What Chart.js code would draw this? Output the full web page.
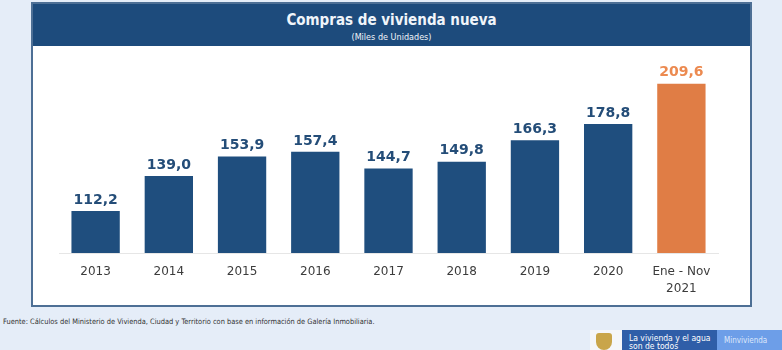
<!DOCTYPE html>
<html>
<head>
<meta charset="utf-8">
<script src="https://cdn.jsdelivr.net/npm/chart.js@4"></script>
<style>
    body { margin: 0; width: 782px; height: 350px; background: #e5edf8; position: relative; overflow: hidden; font-family: "DejaVu Sans", sans-serif; }
    #frame { position: absolute; left: 31px; top: 2px; width: 717px; height: 301px; border: 2px solid #4d6f95; background: #fff; }
    #header { position: absolute; left: 0; top: 0; width: 100%; height: 42px; background: #1d4b7c; color: #f0f5fa; text-align: center; }
    #title { font-family: "DejaVu Sans Condensed", "DejaVu Sans", sans-serif; font-weight: bold; font-size: 15px; margin-top: 7px; }
    #subtitle { font-family: "DejaVu Sans Condensed", "DejaVu Sans", sans-serif; font-size: 9px; margin-top: 3px; }
    #wrap { position: absolute; left: 0; top: 44px; width: 717px; height: 257px; }
    #source { position: absolute; left: 3px; top: 317px; font-family: "DejaVu Sans Condensed", sans-serif; font-size: 7.4px; color: #333; }
    #logo { position: absolute; left: 590px; top: 330px; width: 192px; height: 20px; background: #f4f6fa; overflow: hidden; }
    #shield { position: absolute; left: 6px; top: 3px; width: 16px; height: 17px; background: #c9a54a; border-radius: 3px 3px 8px 8px; }
    #slogan { position: absolute; left: 32px; top: 0; width: 95px; height: 20px; background: #2f5ea8; color: #fff; font-family: "DejaVu Sans Condensed", sans-serif; font-size: 8.5px; line-height: 8px; padding: 4px 0 0 7px; box-sizing: border-box; overflow: hidden; white-space: nowrap; }
    #brand { position: absolute; left: 127px; top: 0; width: 65px; height: 20px; background: #6d9ee8; color: #dde8fb; font-family: "DejaVu Sans Condensed", sans-serif; font-size: 8px; padding: 6px 0 0 7px; box-sizing: border-box; white-space: nowrap; }
</style>
</head>
<body>
<div id="frame">
    <div id="header">
        <div id="title">Compras de vivienda nueva</div>
        <div id="subtitle">(Miles de Unidades)</div>
    </div>
    <div id="wrap"><canvas id="chart"></canvas></div>
</div>
<div id="source">Fuente: Cálculos del Ministerio de Vivienda, Ciudad y Territorio con base en información de Galería Inmobiliaria.</div>
<div id="logo">
    <div id="shield"></div>
    <div id="slogan">La vivienda y el agua<br>son de todos</div>
    <div id="brand">Minvivienda</div>
</div>
<script>
// datos
const categories = ['2013', '2014', '2015', '2016', '2017', '2018', '2019', '2020', ['Ene - Nov', '2021']];
const purchases = [112.2, 139.0, 153.9, 157.4, 144.7, 149.8, 166.3, 178.8, 209.6];
const valueLabels = ['112,2', '139,0', '153,9', '157,4', '144,7', '149,8', '166,3', '178,8', '209,6'];

const BLUE = '#1f4e7e';
const ORANGE = '#e07d45';
const barColors = purchases.map((v, i) => i === purchases.length - 1 ? ORANGE : BLUE);
const labelColors = purchases.map((v, i) => i === purchases.length - 1 ? '#ec8a50' : '#244d78');

// etiquetas encima de las barras
const valueLabelPlugin = {
    id: 'valueLabels',
    afterDatasetsDraw(chart) {
        const ctx = chart.ctx;
        const meta = chart.getDatasetMeta(0);
        ctx.save();
        ctx.font = 'bold 14px "DejaVu Sans", sans-serif';
        ctx.textAlign = 'center';
        ctx.textBaseline = 'bottom';
        meta.data.forEach((bar, i) => {
            ctx.fillStyle = labelColors[i];
            ctx.fillText(valueLabels[i], bar.x, bar.y - 4);
        });
        ctx.restore();
    }
};

const chart = new Chart(document.getElementById('chart'), {
    type: 'bar',
    data: {
        labels: categories,
        datasets: [{
            data: purchases,
            backgroundColor: barColors,
            barPercentage: 0.66,
            categoryPercentage: 1
        }]
    },
    options: {
        responsive: true,
        maintainAspectRatio: false,
        animation: false,
        layout: { padding: { left: 26, right: 32, top: 9, bottom: 8 } },
        scales: {
            y: { display: false, min: 80, max: 230 },
            x: {
                grid: { display: false },
                border: { display: true, color: '#e6e6e6', width: 1 },
                ticks: {
                    color: '#3c3c3c',
                    padding: 2,
                    font: { family: '"DejaVu Sans", sans-serif', size: 12, lineHeight: 1.42 }
                },
                afterFit(scale) { scale.height = 44; }
            }
        },
        plugins: {
            legend: { display: false },
            tooltip: { enabled: false }
        }
    },
    plugins: [valueLabelPlugin]
});
</script>
</body>
</html>
